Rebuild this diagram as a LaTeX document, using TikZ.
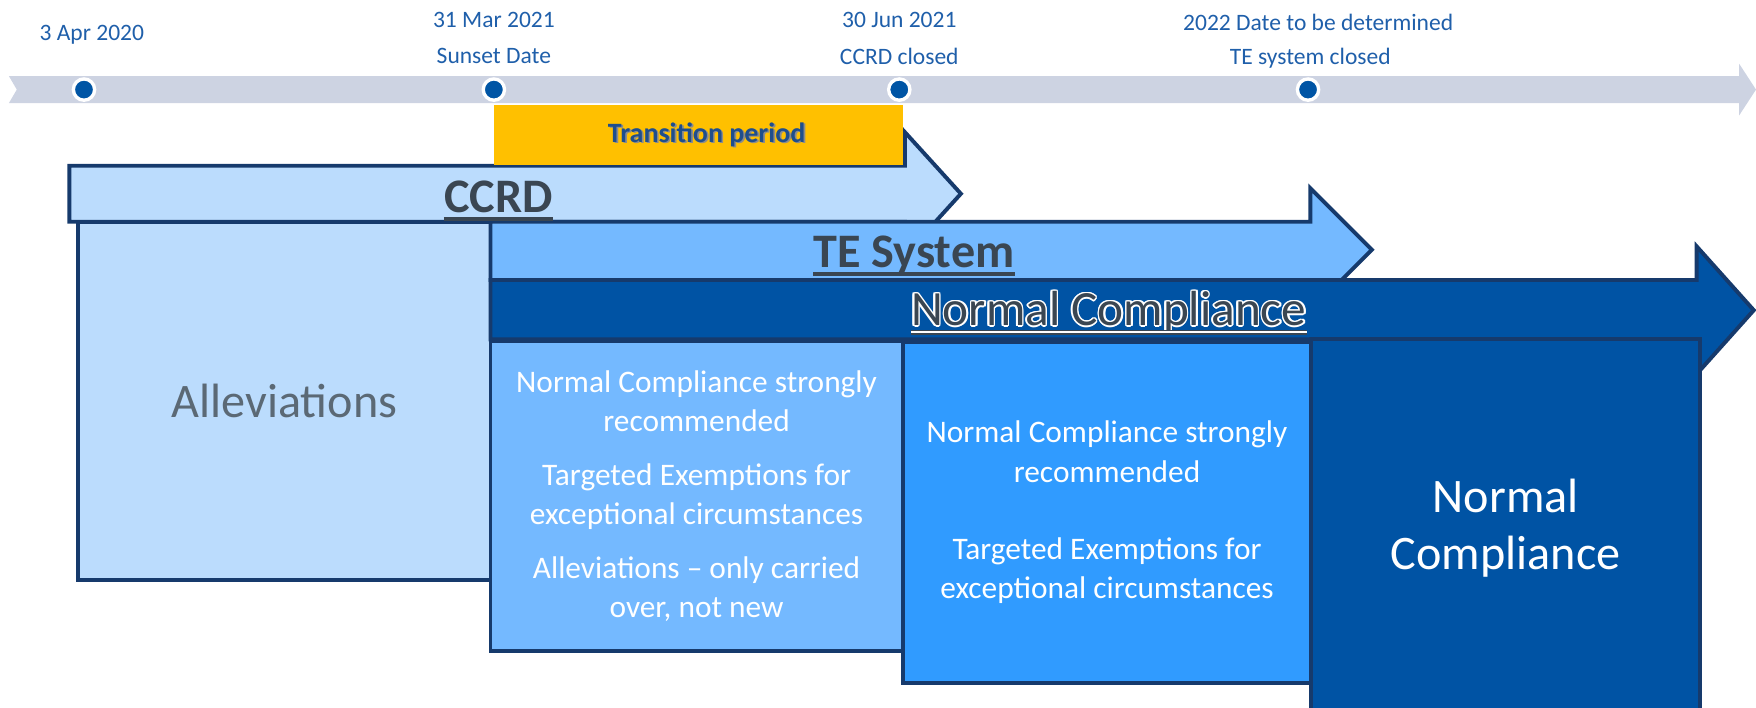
\documentclass[tikz,border=0pt]{standalone}
\usepackage{fontspec}
\setmainfont{Carlito}
\definecolor{band}{RGB}{205,211,226}
\definecolor{dotblue}{RGB}{0,85,165}
\definecolor{dateblue}{RGB}{31,95,170}
\definecolor{navy}{RGB}{22,58,108}
\definecolor{ccrdfill}{RGB}{187,220,253}
\definecolor{tefill}{RGB}{116,185,255}
\definecolor{ncfill}{RGB}{0,83,164}
\definecolor{midfill}{RGB}{48,155,255}
\definecolor{amber}{RGB}{255,192,0}
\definecolor{titlegrey}{RGB}{58,70,82}
\definecolor{allgrey}{RGB}{91,105,117}
\definecolor{transblue}{RGB}{31,78,140}
\begin{document}
\begin{tikzpicture}[x=1pt, y=-1pt, line join=miter,
    datelabel/.style={text=dateblue, font=\fontsize{21}{25}\selectfont},
    marker/.style={circle, fill=dotblue, draw=white, line width=3pt, minimum size=19pt, inner sep=0pt},
    phase/.style={draw=navy, line width=3.5pt},
    title/.style={font=\bfseries\fontsize{43}{50}\selectfont, text=titlegrey, inner sep=0pt},
    boxtext/.style={text=white, align=center, font=\fontsize{28}{35}\selectfont},
    ul/.style={line width=3.5pt, draw=titlegrey}]
    \useasboundingbox (0,0) rectangle (1568,632);

    % Timeline
    \fill[band] (8,68) -- (1553,68) -- (1553,57) -- (1568,80) -- (1553,103)
        -- (1553,92) -- (8,92) -- (15,80) -- cycle;
    \node[marker] (apr) at (75,80) {};
    \node[marker] (sunset) at (441,80) {};
    \node[marker] (closed) at (803,80) {};
    \node[marker] (tbd) at (1168,80) {};

    \node[datelabel] (aprdate) at (82,31) {3 Apr 2020};
    \node[datelabel] (sunsetdate) at (441,18) {31 Mar 2021};
    \node[datelabel] (sunsetname) at (441,50) {Sunset Date};
    \node[datelabel] (closeddate) at (803,18) {30 Jun 2021};
    \node[datelabel] (closedname) at (803,50) {CCRD closed};
    \node[datelabel] (tbddate) at (1177,20) {2022 Date to be determined};
    \node[datelabel] (tbdname) at (1170,52) {TE system closed};

    % Phase arrows and boxes
    \draw[phase, fill=ccrdfill] (62,148) -- (808,148) -- (808,118) -- (858,173)
        -- (808,228) -- (808,198) -- (62,198) -- cycle;
    \fill[amber] (441,94) rectangle (806,147);
    \node[text=black!45, font=\bfseries\fontsize{25}{30}\selectfont] at (632.5,121.5) {Transition period};
    \node[text=transblue, font=\bfseries\fontsize{25}{30}\selectfont] (transition) at (631,120) {Transition period};

    \node[phase, fill=ccrdfill, minimum width=368pt, minimum height=320pt,
        text=allgrey, font=\fontsize{43}{50}\selectfont] (alleviations) at (254,358) {Alleviations};

    \draw[phase, fill=tefill] (438,198) -- (1170,198) -- (1170,168) -- (1225,223)
        -- (1170,278) -- (1170,250) -- (438,250) -- cycle;
    \draw[phase, fill=ncfill] (438,250) -- (1515,250) -- (1515,220) -- (1566,277)
        -- (1515,334) -- (1515,303) -- (438,303) -- cycle;

    \node[phase, fill=ncfill, minimum width=347pt, minimum height=337pt, text=white,
        align=center, font=\fontsize{43}{51}\selectfont] (normal) at (1344.5,471.5) {Normal\\Compliance};
    \node[phase, fill=midfill, minimum width=365pt, minimum height=305pt, boxtext] (targeted) at (988.5,457.5)
        {Normal Compliance strongly\\recommended\\[34pt]Targeted Exemptions for\\exceptional circumstances};
    \node[phase, fill=tefill, minimum width=368pt, minimum height=277pt, boxtext] (recommended) at (622,443)
        {Normal Compliance strongly\\recommended\\[13pt]Targeted Exemptions for\\exceptional circumstances\\[13pt]Alleviations -- only carried\\over, not new};

    % Titles
    \node[title] (ccrd) at (445,176) {CCRD};
    \draw[ul] ([yshift=-6pt]ccrd.base west) -- ([yshift=-6pt]ccrd.base east);
    \node[title] (te) at (816,228) {TE System};
    \draw[ul] ([yshift=-6pt]te.base west) -- ([yshift=-6pt]te.base east);
    \foreach \a in {0,30,...,330}
        \path (990,279) ++(\a:1.4) node[font=\fontsize{44}{50}\selectfont, text=white, inner sep=0pt] {Normal Compliance};
    \node[font=\fontsize{44}{50}\selectfont, text=titlegrey, inner sep=0pt] (nc) at (990,279) {Normal Compliance};
    \draw[line width=4.5pt, titlegrey] ([yshift=-6pt]nc.base west) -- ([yshift=-6pt]nc.base east);
    \draw[line width=2pt, white] ([yshift=-6pt]nc.base west) -- ([yshift=-6pt]nc.base east);
\end{tikzpicture}
\end{document}
